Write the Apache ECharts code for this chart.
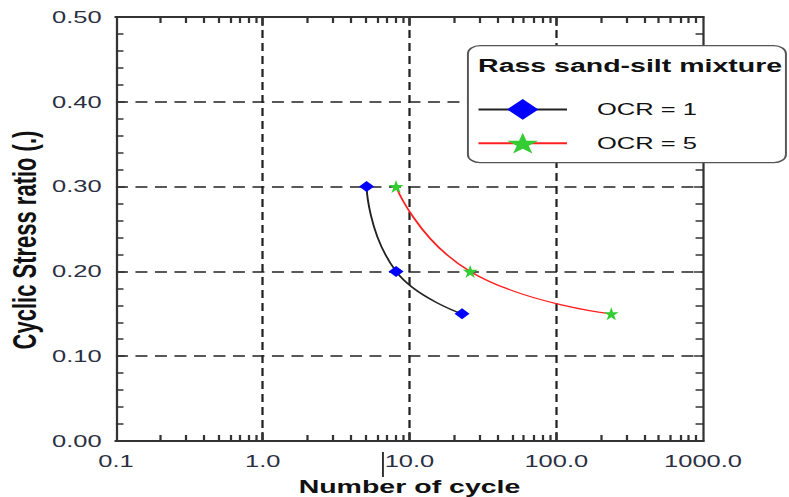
<!DOCTYPE html>
<html>
<head>
<meta charset="utf-8">
<script src="https://cdn.jsdelivr.net/npm/echarts@6/dist/echarts.min.js"></script>
<style>
  html, body { margin: 0; padding: 0; background: #fff; overflow: hidden; }
  /* the reference is stretched sideways about 1.5x, so draw at 526 wide and stretch */
  #chart { width: 526px; height: 497px; transform: scaleX(1.5); transform-origin: 0 0; }
</style>
</head>
<body>
<div id="chart"></div>
<script>
// values
const ocr1Cycles = [5.1, 8.1, 22.8]
const ocr1Csr = [0.30, 0.20, 0.15]
const ocr5Cycles = [8.1, 25.9, 237]
const ocr5Csr = [0.30, 0.20, 0.15]

const xMajor = [0.1, 1, 10, 100, 1000]
const xMinor = [0.2, 0.3, 0.4, 0.5, 0.6, 0.7, 0.8, 0.9,
  2, 3, 4, 5, 6, 7, 8, 9, 20, 30, 40, 50, 60, 70, 80, 90,
  200, 300, 400, 500, 600, 700, 800, 900]

const C = { axis: '#333', grid: '#222', label: '#2a3042', font: '"Liberation Sans", Arial, sans-serif' }

const dash = { color: C.grid, width: 1.5, type: [8, 5] }
const tickLine = { color: C.axis, width: 1.5 }

function xAxisBase(pos) {
  return {
    type: 'log', logBase: 10, min: 0.1, max: 1000, position: pos,
    axisLine: { lineStyle: { color: C.axis, width: 2 } },
    axisLabel: { show: false },
    splitLine: { show: false },
  }
}

const xAxes = [
  Object.assign(xAxisBase('bottom'), {
    name: 'Number of cycle', nameLocation: 'middle', nameGap: 36,
    nameTextStyle: { fontFamily: C.font, fontWeight: 'bold', fontSize: 19, color: '#111' },
    axisLabel: {
      show: true, customValues: xMajor, margin: 12,
      fontFamily: C.font, fontSize: 17, color: C.label,
      formatter: v => v < 1 ? String(v) : v.toFixed(1),
    },
    axisTick: { show: true, inside: true, length: 9, customValues: [1, 10, 100], lineStyle: tickLine },
    splitLine: { show: true, lineStyle: dash },
  }),
  Object.assign(xAxisBase('bottom'), {
    axisTick: { show: true, inside: true, length: 6, customValues: xMinor, lineStyle: tickLine },
  }),
  Object.assign(xAxisBase('top'), {
    axisTick: { show: true, inside: true, length: 9, customValues: [1, 10, 100], lineStyle: tickLine },
  }),
  Object.assign(xAxisBase('top'), {
    axisTick: { show: true, inside: true, length: 6, customValues: xMinor, lineStyle: tickLine },
  }),
]

function yAxisBase(pos) {
  return {
    type: 'value', min: 0, max: 0.5, interval: 0.1, position: pos,
    axisLine: { show: true, lineStyle: { color: C.axis, width: 1.5 } },
    axisTick: { show: true, inside: true, length: 6, lineStyle: tickLine },
    minorTick: { show: true, splitNumber: 5, length: 5, lineStyle: tickLine },
    axisLabel: { show: false },
    splitLine: { show: false },
  }
}

const yAxes = [
  Object.assign(yAxisBase('left'), {
    name: 'Cyclic Stress ratio (.)', nameLocation: 'middle', nameGap: 50, nameRotate: 90,
    nameMoveOverlap: false,
    nameTextStyle: { fontFamily: C.font, fontWeight: 'bold', fontSize: 22, color: '#111', padding: [0, 22, 0, 0] },
    axisLabel: { show: true, margin: 9.5, fontFamily: C.font, fontSize: 17, color: C.label, formatter: v => v.toFixed(2) },
    splitLine: { show: true, lineStyle: dash },
  }),
  yAxisBase('right'),
]

const chart = echarts.init(document.getElementById('chart'), null, { renderer: 'svg' })

chart.setOption({
  animation: false,
  backgroundColor: '#fff',
  grid: { left: 77.3, right: 57.3, top: 17, bottom: 56, containLabel: false, outerBoundsMode: 'none' },
  xAxis: xAxes,
  yAxis: yAxes,
  legend: {
    orient: 'vertical', left: 313, top: 94, z: 10,
    itemWidth: 59, itemHeight: 26, itemGap: 13,
    textStyle: { fontFamily: C.font, fontSize: 17, color: '#111', padding: [0, 0, 0, 15] },
    data: ['OCR = 1', 'OCR = 5'],
  },
  graphic: [
    { type: 'rect', left: 311.3, top: 45, shape: { width: 212, height: 117, r: 8 },
      style: { fill: '#fff', stroke: '#555', lineWidth: 1.3 }, z: 5 },
    { type: 'text', left: 318.7, top: 56, z: 6,
      style: { text: 'Rass sand-silt mixture', font: 'bold 19px "Liberation Sans", Arial, sans-serif', fill: '#111' } },
    { type: 'line', shape: { x1: 255.3, y1: 452, x2: 255.3, y2: 477 }, style: { stroke: '#222', lineWidth: 1.2 } },
  ],
  series: [
    {
      name: 'OCR = 1', type: 'line', smooth: 0.5,
      data: ocr1Cycles.map((x, i) => [x, ocr1Csr[i]]),
      symbol: 'diamond', symbolSize: [10, 11],
      lineStyle: { color: '#222', width: 1.3 },
      itemStyle: { color: '#0000ff' },
      z: 3,
    },
    {
      name: 'OCR = 5', type: 'line', smooth: 0.5,
      data: ocr5Cycles.map((x, i) => [x, ocr5Csr[i]]),
      symbol: 'path://M50,0 L61.8,36.2 L100,36.2 L69.1,58.8 L80.9,95.1 L50,72.7 L19.1,95.1 L30.9,58.8 L0,36.2 L38.2,36.2 Z',
      symbolSize: [10, 13],
      lineStyle: { color: '#ff2020', width: 1.3 },
      itemStyle: { color: '#33cc33' },
      z: 3,
    },
  ],
})

window.addEventListener('resize', () => chart.resize())
</script>
</body>
</html>
